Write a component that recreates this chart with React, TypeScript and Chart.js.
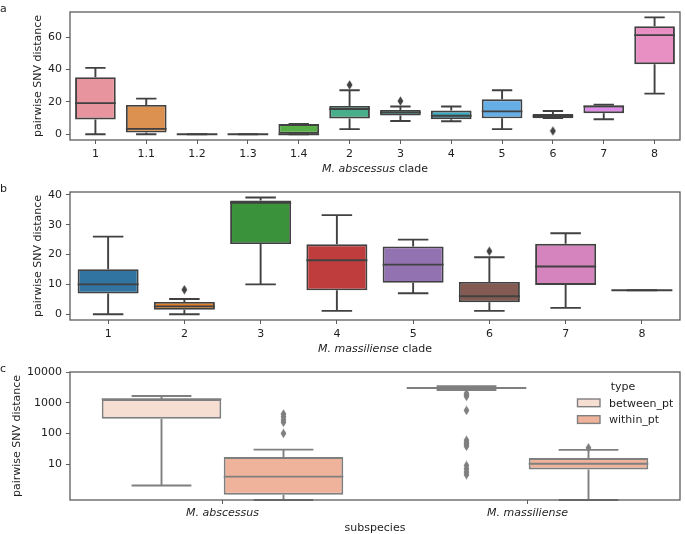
import React, { useEffect, useRef } from 'react';
import { Chart, registerables } from 'chart.js';
Chart.register(...registerables);

const FONT_FAMILY = "'DejaVu Sans', 'Liberation Sans', sans-serif";
const TEXT_COLOR = '#1e1e1e';
const SPINE_COLOR = '#5c5c5c';

// ---------- Panel a: M. abscessus clades ----------
const abscessusClades = ['1', '1.1', '1.2', '1.3', '1.4', '2', '3', '4', '5', '6', '7', '8'];
const abscessusLow = [0, 0, 0, 0, 0, 3.1, 8.2, 8, 3.1, 10, 9.2, 25.1];
const abscessusQ1 = [9.1, 1, 0, 0, 0, 9.7, 11.5, 9.3, 9.8, 9.9, 13, 43.3];
const abscessusMedian = [19.2, 3.3, 0, 0, 0, 15.6, 13.4, 11.4, 14.1, 11, 17.2, 61.3];
const abscessusQ3 = [35.3, 18.1, 0, 0, 6.3, 17.5, 15, 14.6, 21.6, 12.5, 17.7, 66.8];
const abscessusHigh = [41, 22, 0, 0, 6.3, 27.2, 17.1, 17.1, 27.2, 14.3, 18.3, 72.3];
const abscessusOutliers = [[], [], [], [], [], [30.5], [20.5], [], [], [2], [], []];
const abscessusColors = ['#e8949f', '#dc9150', '#b3a043', '#86ad44', '#57ae47', '#47b08a', '#42ab9e', '#3eaac1', '#66aee6', '#a996e8', '#df8ae8', '#e890c3'];
const abscessusTicks = [0, 20, 40, 60];
const abscessusLimits = [-3.6, 75.6];

// ---------- Panel b: M. massiliense clades ----------
const massilienseClades = ['1', '2', '3', '4', '5', '6', '7', '8'];
const massilienseLow = [0, 0, 10, 1.1, 7, 1.1, 2.1, 8];
const massilienseQ1 = [6.9, 1.5, 23.5, 8, 10.5, 4, 9.8, 8];
const massilienseMedian = [10, 2.6, 37.3, 18.1, 16.6, 6, 16, 8];
const massilienseQ3 = [15.1, 4.1, 38.1, 23.4, 22.7, 10.8, 23.6, 8];
const massilienseHigh = [26, 5.1, 39.1, 33.2, 25, 19.1, 27.1, 8];
const massilienseOutliers = [[], [8.2], [], [], [], [21.1], [], []];
const massilienseColors = ['#3274a1', '#e1812c', '#3a923a', '#c03d3e', '#9372b2', '#845b53', '#d684bd', '#7f7f7f'];
const massilienseTicks = [0, 10, 20, 30, 40];
const massilienseLimits = [-1.95, 40.95];

// ---------- Panel c: subspecies, between vs within patient ----------
const subspecies = ['M. abscessus', 'M. massiliense'];
const typeNames = ['between_pt', 'within_pt'];
const betweenLow = [2, 2600];
const betweenQ1 = [300, 2800];
const betweenMedian = [1290, 3000];
const betweenQ3 = [1300, 3150];
const betweenHigh = [1650, 3450];
const betweenOutliers = [[], [2000, 1800, 1600, 560, 60, 50, 44, 38, 9, 7, 5.5, 4.5]];
const withinLow = [0, 0];
const withinQ1 = [1, 6.7];
const withinMedian = [3.9, 10.3];
const withinQ3 = [17, 15.7];
const withinHigh = [29.5, 29];
const withinOutliers = [[430, 350, 280, 230, 100], [34]];
const typeColors = ['#f6ded3', '#efb39c'];
const subspeciesTicks = [10, 100, 1000, 10000];
const subspeciesLimits = [0.675, 10000];

type Series = {
  label: string;
  low: number[];
  q1: number[];
  median: number[];
  q3: number[];
  high: number[];
  outliers: number[][];
  color: string | string[];
};

type TextPart = { text: string; italic?: boolean };

type PanelSpec = {
  letter: string;
  labels: string[];
  series: Series[];
  logY: boolean;
  limits: number[];
  ticks: number[];
  edge: string;
  yTitlePad: number;
  italicTicks: boolean;
  xTitle: TextPart[];
  xTitleBaseline: number;
  xTickPad: number;
  legendTitle?: string;
  barPct: number;
  height: number;
};

function makeDiamond(color: string) {
  const c = document.createElement('canvas');
  c.width = 7;
  c.height = 10;
  const ctx = c.getContext('2d')!;
  ctx.fillStyle = color;
  ctx.beginPath();
  ctx.moveTo(3.5, 0.3);
  ctx.lineTo(6.4, 5);
  ctx.lineTo(3.5, 9.7);
  ctx.lineTo(0.6, 5);
  ctx.closePath();
  ctx.fill();
  return c;
}

function font(size: number, italic = false) {
  return `${italic ? 'italic ' : ''}${size}px ${FONT_FAMILY}`;
}

const boxPartsPlugin = {
  id: 'boxParts',
  beforeDatasetsDraw(chart: any) {
    const ctx = chart.ctx;
    const y = chart.scales.y;
    chart.data.datasets.forEach((ds: any, i: number) => {
      if (!ds.boxStats) return;
      const meta = chart.getDatasetMeta(i);
      ctx.save();
      ctx.strokeStyle = ds.borderColor;
      ctx.lineWidth = ds.borderWidth;
      meta.data.forEach((el: any, j: number) => {
        const { x, width } = el.getProps(['x', 'width'], true);
        const pLow = y.getPixelForValue(ds.boxStats.low[j]);
        const pHigh = y.getPixelForValue(ds.boxStats.high[j]);
        const pQ1 = y.getPixelForValue(ds.data[j][0]);
        const pQ3 = y.getPixelForValue(ds.data[j][1]);
        const cap = width / 4;
        ctx.beginPath();
        ctx.moveTo(x, pQ1);
        ctx.lineTo(x, pLow);
        ctx.moveTo(x - cap, pLow);
        ctx.lineTo(x + cap, pLow);
        ctx.moveTo(x, pQ3);
        ctx.lineTo(x, pHigh);
        ctx.moveTo(x - cap, pHigh);
        ctx.lineTo(x + cap, pHigh);
        ctx.stroke();
      });
      ctx.restore();
    });
  },
  afterDatasetDraw(chart: any, args: any) {
    const ds = chart.data.datasets[args.index];
    if (!ds.boxStats) return;
    const ctx = chart.ctx;
    const y = chart.scales.y;
    const meta = chart.getDatasetMeta(args.index);
    ctx.save();
    ctx.strokeStyle = ds.borderColor;
    ctx.lineWidth = ds.borderWidth;
    meta.data.forEach((el: any, j: number) => {
      const { x, width } = el.getProps(['x', 'width'], true);
      const pMed = y.getPixelForValue(ds.boxStats.median[j]);
      ctx.beginPath();
      ctx.moveTo(x - width / 2, pMed);
      ctx.lineTo(x + width / 2, pMed);
      ctx.stroke();
    });
    ctx.restore();
  },
};

const decorPlugin = {
  id: 'decor',
  afterDraw(chart: any, _args: any, opts: any) {
    const ctx = chart.ctx;
    const a = chart.chartArea;
    ctx.save();
    ctx.strokeStyle = SPINE_COLOR;
    ctx.lineWidth = 1.3;
    ctx.strokeRect(a.left, a.top, a.right - a.left, a.bottom - a.top);
    ctx.fillStyle = TEXT_COLOR;
    ctx.textBaseline = 'alphabetic';
    ctx.textAlign = 'left';
    ctx.font = font(11);
    ctx.fillText(opts.letter, 0, 12);
    const parts: TextPart[] = opts.xTitle;
    const widths = parts.map((p) => {
      ctx.font = font(11, !!p.italic);
      return ctx.measureText(p.text).width;
    });
    const total = widths.reduce((s, w) => s + w, 0);
    let x = (a.left + a.right) / 2 - total / 2;
    parts.forEach((p, i) => {
      ctx.font = font(11, !!p.italic);
      ctx.fillText(p.text, x, opts.xTitleBaseline);
      x += widths[i];
    });
    if (opts.legendTitle) {
      const boxes = chart.data.datasets.filter((d: any) => d.boxStats);
      ctx.font = font(11);
      ctx.textAlign = 'center';
      ctx.fillText(opts.legendTitle, 623, 30);
      ctx.textAlign = 'left';
      boxes.forEach((d: any, k: number) => {
        const top = 39 + k * 16.7;
        ctx.fillStyle = d.backgroundColor;
        ctx.fillRect(577.5, top, 22.5, 7.7);
        ctx.strokeStyle = d.borderColor;
        ctx.lineWidth = 1.4;
        ctx.strokeRect(577.5, top, 22.5, 7.7);
        ctx.fillStyle = TEXT_COLOR;
        ctx.fillText(d.label, 609, top + 7.5);
      });
    }
    ctx.restore();
  },
};

function buildConfig(spec: PanelSpec): any {
  const k = spec.series.length;
  const datasets: any[] = [];
  spec.series.forEach((s, si) => {
    const dodge = (si - (k - 1) / 2) * (0.8 / k);
    const pts: { x: number; y: number }[] = [];
    s.outliers.forEach((arr, ci) => arr.forEach((v) => pts.push({ x: ci + dodge, y: v })));
    datasets.push({
      type: 'scatter',
      label: s.label + ' outliers',
      parsing: false,
      data: pts,
      pointStyle: makeDiamond(spec.edge),
      pointRadius: 4,
      showLine: false,
      order: -1,
    });
  });
  spec.series.forEach((s) => {
    datasets.push({
      type: 'bar',
      label: s.label,
      data: s.q1.map((v, i) => [v, s.q3[i]]),
      backgroundColor: s.color,
      borderColor: spec.edge,
      borderWidth: 1.9,
      borderSkipped: false,
      barPercentage: spec.barPct,
      categoryPercentage: 0.8,
      boxStats: { low: s.low, median: s.median, high: s.high },
    });
  });

  const tickFont = { family: FONT_FAMILY, size: 11 };
  return {
    type: 'bar',
    data: { labels: spec.labels, datasets },
    plugins: [boxPartsPlugin, decorPlugin],
    options: {
      responsive: false,
      animation: false,
      devicePixelRatio: 1,
      layout: { padding: { top: 12, right: 2, left: 0, bottom: 0 } },
      plugins: {
        legend: { display: false },
        tooltip: { enabled: false },
        decor: {
          letter: spec.letter,
          xTitle: spec.xTitle,
          xTitleBaseline: spec.xTitleBaseline,
          legendTitle: spec.legendTitle,
        },
      },
      scales: {
        x: {
          type: 'category',
          offset: true,
          bounds: 'ticks',
          border: { display: false },
          grid: {
            display: true,
            offset: false,
            drawOnChartArea: false,
            drawTicks: true,
            tickLength: 4,
            tickColor: SPINE_COLOR,
            tickWidth: 1,
          },
          ticks: {
            font: { ...tickFont, style: spec.italicTicks ? 'italic' : 'normal' },
            color: TEXT_COLOR,
            padding: spec.xTickPad,
            maxRotation: 0,
            autoSkip: false,
          },
          afterFit: (scale: any) => {
            scale.height = spec.height - 140;
          },
        },
        y: {
          type: spec.logY ? 'logarithmic' : 'linear',
          min: spec.limits[0],
          max: spec.limits[1],
          border: { display: false },
          grid: {
            display: true,
            drawOnChartArea: false,
            drawTicks: true,
            tickLength: 4,
            tickColor: SPINE_COLOR,
            tickWidth: 1,
          },
          ticks: {
            font: tickFont,
            color: TEXT_COLOR,
            padding: 4,
            callback: (v: any) => String(v),
          },
          afterBuildTicks: (scale: any) => {
            scale.ticks = spec.ticks.map((v) => ({ value: v }));
          },
          afterFit: (scale: any) => {
            scale.width = 70;
          },
          title: {
            display: true,
            text: 'pairwise SNV distance',
            font: tickFont,
            color: TEXT_COLOR,
            padding: { top: spec.yTitlePad, bottom: 0 },
          },
        },
      },
    },
  };
}

const panelA: PanelSpec = {
  letter: 'a',
  labels: abscessusClades,
  series: [
    {
      label: 'M. abscessus',
      low: abscessusLow,
      q1: abscessusQ1,
      median: abscessusMedian,
      q3: abscessusQ3,
      high: abscessusHigh,
      outliers: abscessusOutliers,
      color: abscessusColors,
    },
  ],
  logY: false,
  limits: abscessusLimits,
  ticks: abscessusTicks,
  edge: '#414141',
  yTitlePad: 32,
  italicTicks: false,
  xTitle: [{ text: 'M. abscessus', italic: true }, { text: ' clade' }],
  xTitleBaseline: 172,
  xTickPad: 4,
  barPct: 1,
  height: 180,
};

const panelB: PanelSpec = {
  letter: 'b',
  labels: massilienseClades,
  series: [
    {
      label: 'M. massiliense',
      low: massilienseLow,
      q1: massilienseQ1,
      median: massilienseMedian,
      q3: massilienseQ3,
      high: massilienseHigh,
      outliers: massilienseOutliers,
      color: massilienseColors,
    },
  ],
  logY: false,
  limits: massilienseLimits,
  ticks: massilienseTicks,
  edge: '#414141',
  yTitlePad: 32,
  italicTicks: false,
  xTitle: [{ text: 'M. massiliense', italic: true }, { text: ' clade' }],
  xTitleBaseline: 172,
  xTickPad: 4,
  barPct: 1,
  height: 180,
};

const panelC: PanelSpec = {
  letter: 'c',
  labels: subspecies,
  series: [
    {
      label: typeNames[0],
      low: betweenLow,
      q1: betweenQ1,
      median: betweenMedian,
      q3: betweenQ3,
      high: betweenHigh,
      outliers: betweenOutliers,
      color: typeColors[0],
    },
    {
      label: typeNames[1],
      low: withinLow,
      q1: withinQ1,
      median: withinMedian,
      q3: withinQ3,
      high: withinHigh,
      outliers: withinOutliers,
      color: typeColors[1],
    },
  ],
  logY: true,
  limits: subspeciesLimits,
  ticks: subspeciesTicks,
  edge: '#7f7f7f',
  yTitlePad: 11,
  italicTicks: true,
  xTitle: [{ text: 'subspecies' }],
  xTitleBaseline: 170.5,
  xTickPad: 3,
  legendTitle: 'type',
  barPct: 0.98,
  height: 174,
};

function Panel({ spec, top }: { spec: PanelSpec; top: number }) {
  const ref = useRef<HTMLCanvasElement>(null);
  useEffect(() => {
    const chart = new Chart(ref.current!, buildConfig(spec));
    return () => chart.destroy();
  }, [spec]);
  return (
    <canvas
      ref={ref}
      width={685}
      height={spec.height}
      style={{ position: 'absolute', left: 0, top, width: 685, height: spec.height }}
    />
  );
}

export default function App() {
  return (
    <div
      style={{
        position: 'absolute',
        left: 0,
        top: 0,
        width: 685,
        height: 534,
        background: '#ffffff',
        overflow: 'hidden',
      }}
    >
      <Panel spec={panelA} top={0} />
      <Panel spec={panelB} top={180} />
      <Panel spec={panelC} top={360} />
    </div>
  );
}
